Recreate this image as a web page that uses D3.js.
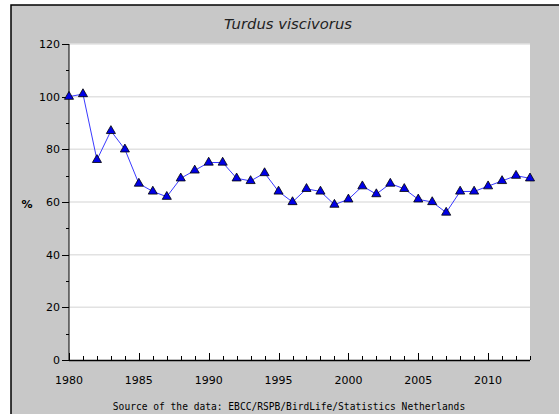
<!DOCTYPE html>
<html><head><meta charset="utf-8">
<script src="https://cdn.jsdelivr.net/npm/d3@7"></script>
<style>body{margin:0;background:#fff;} svg{display:block;}</style>
</head><body>
<svg id="c" width="559" height="414"></svg>
<script>
const years = [1980,1981,1982,1983,1984,1985,1986,1987,1988,1989,1990,1991,1992,1993,1994,1995,1996,1997,1998,1999,2000,2001,2002,2003,2004,2005,2006,2007,2008,2009,2010,2011,2012,2013];
const values = [100,101,76,87,80,67,64,62,69,72,75,75,69,68,71,64,60,65,64,59,61,66,63,67,65,61,60,56,64,64,66,68,70,69];
const yTicks = [0,20,40,60,80,100,120];
const xTicks = [1980,1985,1990,1995,2000,2005,2010];
const title = "Turdus viscivorus";
const source = "Source of the data: EBCC/RSPB/BirdLife/Statistics Netherlands";

const svg = d3.select("#c");
svg.append("rect").attr("x",11).attr("y",5).attr("width",600).attr("height",460)
  .attr("fill","#c8c8c8").attr("stroke","#000").attr("stroke-width",1.5);

const L=69,R=530,T=44,B=360;
const x = d3.scaleLinear().domain([1980,2013]).range([L,R]);
const y = d3.scaleLinear().domain([0,120]).range([B,T]);

svg.append("rect").attr("x",L).attr("y",T).attr("width",R-L).attr("height",B-T).attr("fill","#fff");

// grid
svg.append("g").selectAll("line").data(yTicks.filter(d=>d>0)).join("line")
  .attr("x1",L).attr("x2",R).attr("y1",d=>y(d)).attr("y2",d=>y(d))
  .attr("stroke","#e2e2e2").attr("stroke-width",1.5);

// y axis
const yMinor = d3.range(0,121,10);
const ya = svg.append("g");
ya.append("line").attr("x1",L).attr("x2",L).attr("y1",T).attr("y2",B).attr("stroke","#000");
ya.selectAll(".t").data(yMinor).join("line")
  .attr("x1",d=>d%20===0?L-7:L-3).attr("x2",L).attr("y1",d=>Math.round(y(d))+0.5).attr("y2",d=>Math.round(y(d))+0.5)
  .attr("stroke","#000");
ya.selectAll("text").data(yTicks).join("text")
  .attr("x",L-9).attr("y",d=>y(d)+4).attr("text-anchor","end")
  .attr("font-family","DejaVu Sans").attr("font-size",11).attr("fill","#000").text(d=>d);

// x axis
const xa = svg.append("g");
xa.append("line").attr("x1",L).attr("x2",R).attr("y1",B+0.5).attr("y2",B+0.5).attr("stroke","#000").attr("stroke-width",1.5);
xa.selectAll(".t").data(years).join("line")
  .attr("x1",d=>Math.round(x(d))+0.5).attr("x2",d=>Math.round(x(d))+0.5)
  .attr("y1",B).attr("y2",d=>d%5===0?B-7:B-4).attr("stroke","#000");
xa.selectAll("text").data(xTicks).join("text")
  .attr("x",d=>x(d)).attr("y",B+24).attr("text-anchor","middle")
  .attr("font-family","DejaVu Sans").attr("font-size",11).attr("fill","#000").text(d=>d);

// line
const line = d3.line().x((d,i)=>x(years[i])).y(d=>y(d));
svg.append("path").datum(values).attr("d",line).attr("fill","none").attr("stroke","#3a3aff").attr("stroke-width",1);

// markers
const tri = d3.symbol().type(d3.symbolTriangle).size(36);
svg.append("g").selectAll("path").data(values).join("path")
  .attr("transform",(d,i)=>`translate(${x(years[i])},${y(d)})`)
  .attr("d",tri).attr("fill","#0000e6").attr("stroke","#000").attr("stroke-width",0.8);

// labels
svg.append("text").attr("x",288).attr("y",29).attr("text-anchor","middle")
  .attr("font-family","DejaVu Sans").attr("font-style","italic").attr("font-size",14.8).attr("fill","#222").text(title);
svg.append("text").attr("x",27).attr("y",208).attr("text-anchor","middle")
  .attr("font-family","DejaVu Sans").attr("font-size",11).attr("font-weight","bold").text("%");
svg.append("text").attr("x",289).attr("y",410).attr("text-anchor","middle")
  .attr("font-family","DejaVu Sans Mono").attr("font-size",9.6).attr("fill","#000").text(source);
</script>
</body></html>
